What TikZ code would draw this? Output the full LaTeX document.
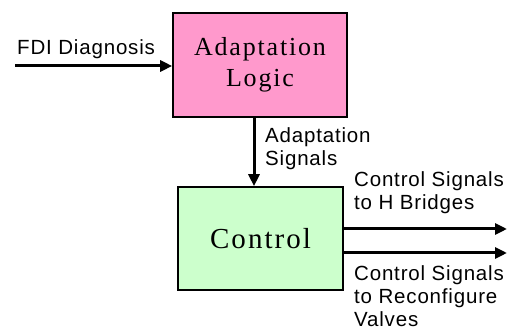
\documentclass[tikz,border=0pt]{standalone}
\usepackage{fontspec}
\setmainfont{Liberation Serif}
\newfontfamily\lblfont[LetterSpace=4]{Liberation Sans}
\newfontfamily\boxfont[LetterSpace=7]{Liberation Serif}
\usepackage{tikz}
\usetikzlibrary{arrows.meta,positioning}
\definecolor{adaptpink}{HTML}{FF99CC}
\definecolor{ctrlgreen}{HTML}{CCFFCC}
\tikzset{
  block/.style={draw=black, line width=1.6pt, inner sep=0pt, align=center},
  sig/.style={line width=3pt, -{Triangle[length=12pt,width=11pt]}},
  lbl/.style={font=\lblfont\fontsize{20.5}{23}\selectfont, align=left, inner sep=0pt}
}
\begin{document}
\begin{tikzpicture}[x=1pt,y=1pt]
\useasboundingbox (0,0) rectangle (515,331);
%----------------------------------
\node [block, fill=adaptpink, minimum width=174pt, minimum height=104pt,
  font=\boxfont\fontsize{26}{31}\selectfont] (logic) at (260,266) {Adaptation\\Logic};
\node [block, fill=ctrlgreen, minimum width=165pt, minimum height=103pt,
  font=\boxfont\fontsize{29}{34}\selectfont] (ctrl) at (260.5,92.5) {Control};
%----------------------------------
\coordinate (fdi) at (15,265);
\coordinate (down) at (254,0);
\coordinate (hb) at (507,102); %H bridges
\coordinate (vl) at (507,78);  %valves
%----------------------------------
\node [lbl, anchor=west] (fdilbl) at (17,282) {FDI Diagnosis};
\node [lbl, anchor=west] (adlbl) at (265,182.5) {Adaptation\\Signals};
\node [lbl, anchor=west] (hblbl) at (354,138.5) {Control Signals\\to H Bridges};
\node [lbl, anchor=west] (vllbl) at (354,35) {Control Signals\\to Reconfigure\\Valves};
%----------------------------------
\draw [sig] (fdi) -- (fdi -| logic.west);
\draw [sig] (logic.south -| down) -- (ctrl.north -| down);
\draw [sig] (ctrl.east |- hb) -- (hb);
\draw [sig] (ctrl.east |- vl) -- (vl);
\end{tikzpicture}
\end{document}
